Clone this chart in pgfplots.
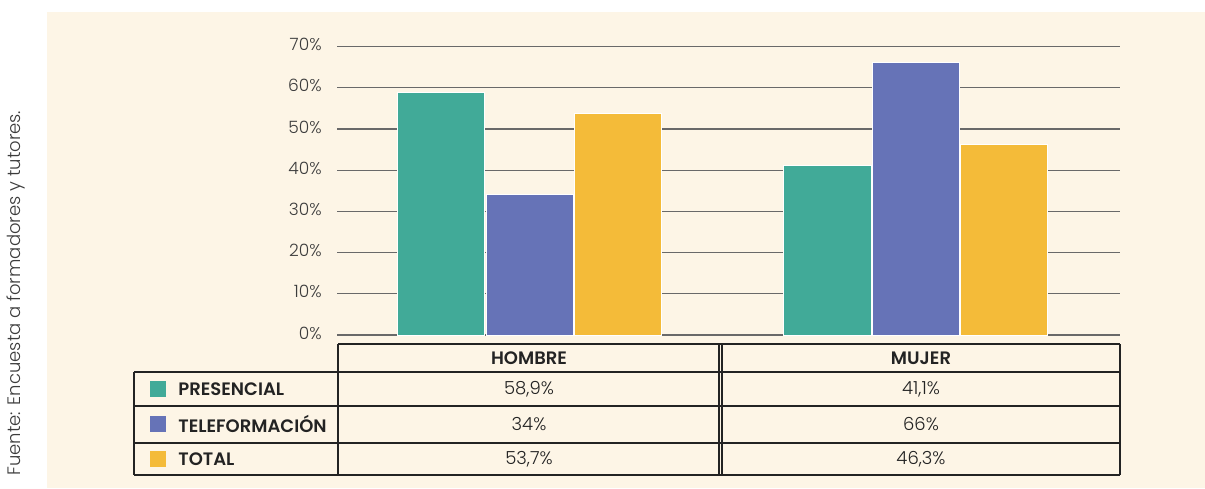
\documentclass[border=0pt]{standalone}
\usepackage{pgfplots}
\pgfplotsset{compat=1.18}
\usepackage{fontspec}
\setmainfont{Poppins}
\newfontfamily\lightfont{Poppins Light}
\newfontfamily\boldfont{Poppins SemiBold}
\definecolor{cbg}{RGB}{253,245,230}
\definecolor{cteal}{RGB}{65,170,152}
\definecolor{cblue}{RGB}{102,115,183}
\definecolor{cyel}{RGB}{244,187,57}
\definecolor{cgrid}{RGB}{105,105,105}
\definecolor{ctxt}{RGB}{60,60,60}
\definecolor{cline}{RGB}{35,35,35}
\begin{document}
\begin{tikzpicture}[x=0.5pt,y=-0.5pt]
\fill[white] (0,0) rectangle (1205,488);
\fill[cbg] (47,12) rectangle (1205,488);
\node[rotate=90, anchor=west, inner sep=0pt, font=\lightfont\fontsize{9}{10}\selectfont, text=ctxt] at (16,476) {Fuente: Encuesta a formadores y tutores.};
\begin{axis}[at={(168.5pt,-167.5pt)}, anchor=south west, scale only axis,
  width=391.5pt, height=144.25pt,
  xmin=-0.4987, xmax=1.5298, ymin=0, ymax=70,
  ytick={0,10,...,70}, yticklabel={\pgfmathprintnumber{\tick}\%},
  xtick=\empty, axis line style={draw=none},
  ymajorgrids, grid style={color=cgrid, line width=0.6pt},
  major tick length=0pt,
  ybar, bar width=0.2254,
  /pgf/number format/assume math mode=true,
  yticklabel style={font=\lightfont\fontsize{8.5}{10}\selectfont, text=ctxt, inner sep=0pt, xshift=-7.5pt, yshift=1pt}]
\addplot[fill=cteal, draw=white, line width=0.5pt, bar shift=-0.228] coordinates {(0,58.9) (1,41.1)};
\addplot[fill=cblue, draw=white, line width=0.5pt, bar shift=0] coordinates {(0,34) (1,66)};
\addplot[fill=cyel, draw=white, line width=0.5pt, bar shift=0.228] coordinates {(0,53.7) (1,46.3)};
\end{axis}
% table
\begin{scope}[draw=cline, line width=0.6pt]
\draw (338,344) -- (1120,344);
\draw (134,372) -- (1120,372);
\draw (134,406) -- (1120,406);
\draw (134,443) -- (1120,443);
\draw (134,475) -- (1120,475);
\draw (134,372) -- (134,475);
\draw (338,344) -- (338,475);
\draw (719,344) -- (719,475);
\draw (722,344) -- (722,475);
\draw (1120,344) -- (1120,475);
\end{scope}
\begin{scope}[every node/.style={inner sep=0pt}]
\node[font=\boldfont\fontsize{9}{10}\selectfont, text=cline] at (529,358) {HOMBRE};
\node[font=\boldfont\fontsize{9}{10}\selectfont, text=cline] at (921,358) {MUJER};
\fill[cteal] (150,381) rectangle (166,397);
\fill[cblue] (150,416) rectangle (166,432);
\fill[cyel] (150,451) rectangle (166,467);
\node[anchor=west, font=\boldfont\fontsize{9}{10}\selectfont, text=cline] at (178,389) {PRESENCIAL};
\node[anchor=west, font=\boldfont\fontsize{9}{10}\selectfont, text=cline] at (178,424) {TELEFORMACIÓN};
\node[anchor=west, font=\boldfont\fontsize{9}{10}\selectfont, text=cline] at (178,459) {TOTAL};
\node[font=\lightfont\fontsize{9}{10}\selectfont, text=cline] at (529,389) {58,9\%};
\node[font=\lightfont\fontsize{9}{10}\selectfont, text=cline] at (529,424) {34\%};
\node[font=\lightfont\fontsize{9}{10}\selectfont, text=cline] at (529,459) {53,7\%};
\node[font=\lightfont\fontsize{9}{10}\selectfont, text=cline] at (921,389) {41,1\%};
\node[font=\lightfont\fontsize{9}{10}\selectfont, text=cline] at (921,424) {66\%};
\node[font=\lightfont\fontsize{9}{10}\selectfont, text=cline] at (921,459) {46,3\%};
\end{scope}
\end{tikzpicture}
\end{document}
